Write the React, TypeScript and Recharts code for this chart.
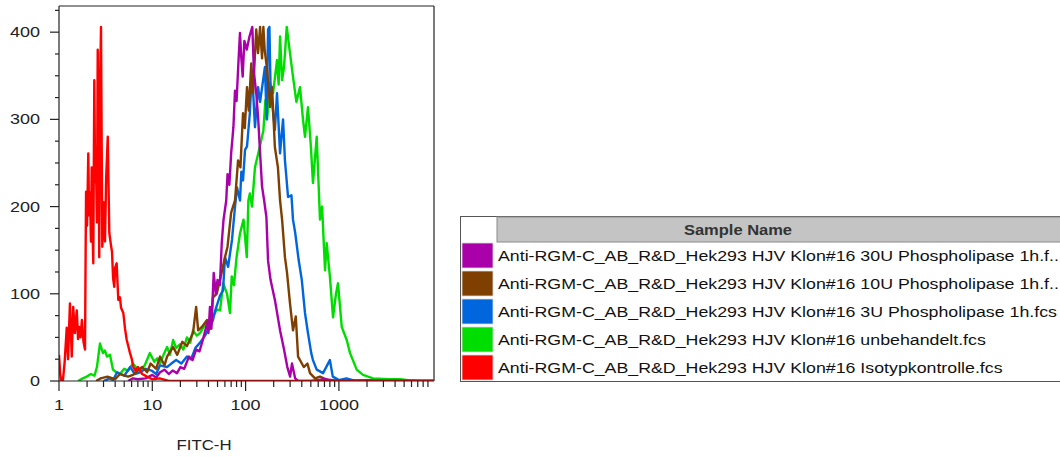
import React from 'react';
import { LineChart, Line, XAxis, YAxis, ReferenceLine } from 'recharts';

// FITC-H histogram overlay, counts per channel
const iso30U: [number, number][] = [
  [5.5, 0], [6.2, 3], [7, 2], [8.5, 3], [10, 7], [11, 4], [12.1, 10], [13.5, 13], [15, 8], [16.5, 12],
  [18.4, 9], [20, 16], [22, 14], [24.7, 28], [27, 24], [29.5, 36], [32, 34], [34.8, 47], [38.6, 66], [40, 55],
  [41.5, 85], [43, 60], [45.5, 124], [48, 100], [50, 116], [53, 110], [55.5, 158], [58, 185], [62, 207], [64, 237],
  [67, 225], [70, 261], [74, 291], [77, 333], [80, 321], [84, 368], [87, 399], [90, 370], [93, 349], [97, 390],
  [103, 380], [110, 395], [118, 406], [123, 353], [130, 330], [136, 303], [143, 261], [150, 223], [158, 207], [167, 188],
  [174, 138], [185, 116], [206, 93], [234, 58], [255, 39], [280, 16], [300, 5], [314, 20], [340, 3], [365, 0],
  [500, 0], [700, 2], [1000, 0], [2000, 1], [3000, 0], [10450, 0],
];

const iso10U: [number, number][] = [
  [2.5, 0], [2.8, 3], [3.3, 5], [4, 2], [4.5, 8], [5.5, 5], [6.2, 7], [7, 12], [7.8, 16], [8.8, 10],
  [9.6, 20], [11, 14], [12.1, 28], [13.5, 18], [14.4, 28], [16.7, 39], [18.5, 30], [21, 45], [23.5, 40], [27.3, 55],
  [29.5, 85], [31, 58], [34, 62], [38.6, 70], [41.5, 60], [44.7, 96], [49, 100], [53.2, 116], [60.1, 142], [64, 154],
  [70, 193], [77, 207], [83, 253], [88, 245], [93.8, 307], [98, 290], [103.5, 337], [108, 310], [115, 364], [120, 330],
  [130, 403], [136, 376], [143, 406], [150, 370], [155, 406], [160, 380], [170, 357], [183, 314], [192, 337], [206, 268],
  [222, 245], [234, 207], [246, 185], [264, 142], [278, 124], [299, 89], [322, 58], [345, 74], [365, 28], [420, 16],
  [460, 20], [490, 9], [554, 3], [627, 5], [800, 0], [10450, 0],
];

const iso3U: [number, number][] = [
  [3.0, 0], [3.5, 3], [3.8, 1], [4.2, 10], [5.0, 6], [5.8, 16], [6.5, 8], [7.4, 10], [8.5, 14], [9.8, 12],
  [11, 8], [12.1, 18], [14.4, 16], [16, 20], [18, 24], [20.5, 20], [23.5, 28], [26, 25], [29, 38], [32.5, 44],
  [36.7, 52], [41.5, 62], [44.7, 70], [47, 80], [53.2, 98], [57.3, 104], [60.1, 142], [65, 131], [71.5, 162], [77, 200],
  [80.9, 222], [87.1, 207], [90, 240], [93.8, 230], [98.6, 265], [103.5, 269], [111, 307], [117, 357], [126, 291], [136, 337],
  [143, 320], [161, 360], [168, 300], [174, 403], [180, 406], [185, 337], [206, 288], [217, 330], [234, 261], [246, 288],
  [252, 300], [264, 253], [285, 211], [310, 213], [322, 185], [340, 170], [370, 139], [400, 116], [433, 78], [466, 55],
  [505, 32], [527, 24], [578, 13], [676, 9], [800, 24], [860, 5], [1000, 1], [1200, 3], [1500, 0], [10450, 0],
];

const untreated: [number, number][] = [
  [1.6, 0], [1.8, 3], [1.98, 5], [2.2, 8], [2.4, 6], [2.55, 16], [2.75, 43], [2.96, 32], [3.1, 35], [3.27, 28],
  [3.52, 30], [3.79, 13], [4.1, 10], [4.5, 8], [5.0, 14], [5.5, 12], [6.2, 20], [6.8, 15], [7.4, 12], [8.3, 18],
  [9.4, 32], [10.5, 22], [11.3, 26], [12.1, 20], [13.2, 30], [14.4, 39], [15.5, 30], [16.7, 47], [18, 38], [19.8, 42],
  [21.5, 36], [23.5, 50], [25.5, 44], [27.3, 58], [30, 52], [32.5, 55], [35.5, 62], [38.6, 66], [41.5, 60], [44.7, 74],
  [49.3, 82], [53.2, 81], [57.6, 112], [63.2, 100], [68, 78], [71, 120], [75, 110], [80, 142], [87, 169], [95, 185],
  [103, 142], [107, 207], [111, 215], [117, 200], [126, 245], [136, 260], [147, 276], [155, 287], [163, 322], [170, 300],
  [183, 342], [197, 330], [217, 368], [226, 340], [234, 395], [246, 345], [258, 360], [276, 406], [299, 376], [322, 349],
  [350, 320], [383, 337], [412, 300], [433, 280], [466, 314], [500, 270], [527, 227], [578, 280], [627, 185], [660, 200],
  [710, 127], [740, 158], [800, 120], [865, 73], [930, 100], [978, 112], [1072, 62], [1213, 47], [1316, 32], [1552, 13],
  [1813, 7], [2320, 3], [3500, 2], [4520, 2], [5500, 1], [7400, 0], [10450, 0],
];

const isotype: [number, number][] = [
  [1.0, 30], [1.03, 8], [1.06, 0], [1.1, 0], [1.15, 22], [1.21, 61], [1.25, 25], [1.31, 89], [1.37, 28], [1.42, 85],
  [1.48, 55], [1.55, 81], [1.6, 48], [1.64, 62], [1.7, 50], [1.76, 70], [1.83, 45], [1.9, 36], [1.93, 150], [1.95, 217],
  [2.0, 178], [2.06, 261], [2.1, 190], [2.15, 216], [2.2, 160], [2.24, 245], [2.29, 172], [2.33, 135], [2.39, 345], [2.44, 228],
  [2.49, 252], [2.55, 182], [2.6, 380], [2.65, 300], [2.7, 142], [2.76, 342], [2.82, 406], [2.87, 262], [2.91, 154], [3.0, 205],
  [3.11, 160], [3.2, 232], [3.33, 280], [3.4, 222], [3.46, 170], [3.58, 158], [3.7, 148], [3.8, 118], [3.91, 108], [4.0, 130],
  [4.15, 135], [4.25, 110], [4.32, 93], [4.5, 96], [4.62, 84], [4.89, 78], [5.1, 60], [5.32, 47], [5.5, 41], [5.77, 32],
  [6.0, 26], [6.26, 16], [6.6, 12], [7.03, 16], [7.8, 8], [8.77, 5], [10, 2], [12, 3], [15, 0], [10450, 0],
];

const sampleNames = [
  'Anti-RGM-C_AB_R&D_Hek293 HJV Klon#16 30U Phospholipase 1h.f...',
  'Anti-RGM-C_AB_R&D_Hek293 HJV Klon#16 10U Phospholipase 1h.f...',
  'Anti-RGM-C_AB_R&D_Hek293 HJV Klon#16 3U Phospholipase 1h.fcs',
  'Anti-RGM-C_AB_R&D_Hek293 HJV Klon#16 unbehandelt.fcs',
  'Anti-RGM-C_AB_R&D_Hek293 HJV Klon#16 Isotypkontrolle.fcs',
];
const sampleColors = ['#aa00aa', '#7f3f00', '#0066dd', '#00dd00', '#ff0000'];

const xMajor = [1, 10, 100, 1000];
const xTicks = [
  1, 2, 3, 4, 5, 6, 7, 8, 9,
  10, 20, 30, 40, 50, 60, 70, 80, 90,
  100, 200, 300, 400, 500, 600, 700, 800, 900,
  1000, 2000, 3000, 4000, 5000, 6000, 7000, 8000, 9000,
];
const yMajor = [0, 100, 200, 300, 400];
const yTicks = [0, 25, 50, 75, 100, 125, 150, 175, 200, 225, 250, 275, 300, 325, 350, 375, 400, 425];

const FONT = '"Liberation Sans", Arial, sans-serif';
const INK = '#222';

const pts = (a: [number, number][]) => a.map(([x, y]) => ({ x, y }));

const XTick = (props: any) => {
  const { x, y, payload } = props;
  const major = xMajor.includes(payload.value);
  return (
    <g>
      <line x1={x} y1={y} x2={x} y2={y + (major ? 10 : 6)} stroke={INK} strokeWidth={1.2} />
      {major && (
        <text transform={`translate(${x},${y + 29}) scale(1.2,1)`} textAnchor="middle" fontSize={15} fontFamily={FONT} fill={INK}>
          {payload.value}
        </text>
      )}
    </g>
  );
};

const YTick = (props: any) => {
  const { x, y, payload } = props;
  const major = yMajor.includes(payload.value);
  return (
    <g>
      <line x1={x} y1={y} x2={x - (major ? 9 : 4)} y2={y} stroke={INK} strokeWidth={1.2} />
      {major && (
        <text transform={`translate(${x - 19},${y + 5}) scale(1.2,1)`} textAnchor="end" fontSize={15} fontFamily={FONT} fill={INK}>
          {payload.value}
        </text>
      )}
    </g>
  );
};

const series = [
  { name: sampleNames[3], color: sampleColors[3], data: untreated },
  { name: sampleNames[2], color: sampleColors[2], data: iso3U },
  { name: sampleNames[1], color: sampleColors[1], data: iso10U },
  { name: sampleNames[0], color: sampleColors[0], data: iso30U },
  { name: sampleNames[4], color: sampleColors[4], data: isotype },
];

export default function App() {
  return (
    <div style={{ position: 'absolute', left: 0, top: 0, width: 1060, height: 457, background: '#fff', overflow: 'hidden' }}>
      <LineChart width={440} height={457} margin={{ top: 6, right: 6, left: 0, bottom: 0 }}>
        <XAxis
          dataKey="x"
          type="number"
          scale="log"
          domain={[1, 10450]}
          allowDataOverflow
          ticks={xTicks}
          interval={0}
          tickSize={0}
          tickMargin={0}
          tickLine={false}
          tick={<XTick />}
          height={76}
          axisLine={{ stroke: INK, strokeWidth: 1.2 }}
        />
        <YAxis
          type="number"
          domain={[0, 430]}
          allowDataOverflow
          ticks={yTicks}
          interval={0}
          tickSize={0}
          tickMargin={0}
          tickLine={false}
          tick={<YTick />}
          width={59}
          axisLine={{ stroke: INK, strokeWidth: 1.2 }}
        />
        <ReferenceLine y={430} stroke={INK} strokeWidth={1.2} />
        <ReferenceLine x={10450} stroke={INK} strokeWidth={1.2} />
        {series.map((s) => (
          <Line
            key={s.name}
            data={pts(s.data)}
            dataKey="y"
            type="linear"
            stroke={s.color}
            strokeWidth={2.4}
            strokeLinejoin="round"
            dot={false}
            isAnimationActive={false}
          />
        ))}
      </LineChart>
      <svg width={1060} height={457} style={{ position: 'absolute', left: 0, top: 0, pointerEvents: 'none' }}>
        <text transform="translate(204,450) scale(1.2,1)" textAnchor="middle" fontSize={14} fontFamily={FONT} fill={INK}>
          FITC-H
        </text>
        <rect x={460.5} y={216.5} width={640} height={165} fill="#fff" stroke="#555" />
        <rect x={497} y={217} width={600} height={25} fill="#c4c4c4" stroke="#8a8a8a" />
        <text transform="translate(738,235) scale(1.1,1)" textAnchor="middle" fontSize={15} fontWeight="bold" fontFamily={FONT} fill="#333">
          Sample Name
        </text>
        {sampleNames.map((n, i) => (
          <g key={n}>
            <rect x={462} y={243 + 28 * i} width={31} height={25} fill={sampleColors[i]} stroke="#ddd" strokeWidth={0.8} />
            <text transform={`translate(498,${261 + 28 * i}) scale(1.185,1)`} fontSize={15} fontFamily={FONT} fill="#111">
              {n}
            </text>
          </g>
        ))}
      </svg>
    </div>
  );
}
